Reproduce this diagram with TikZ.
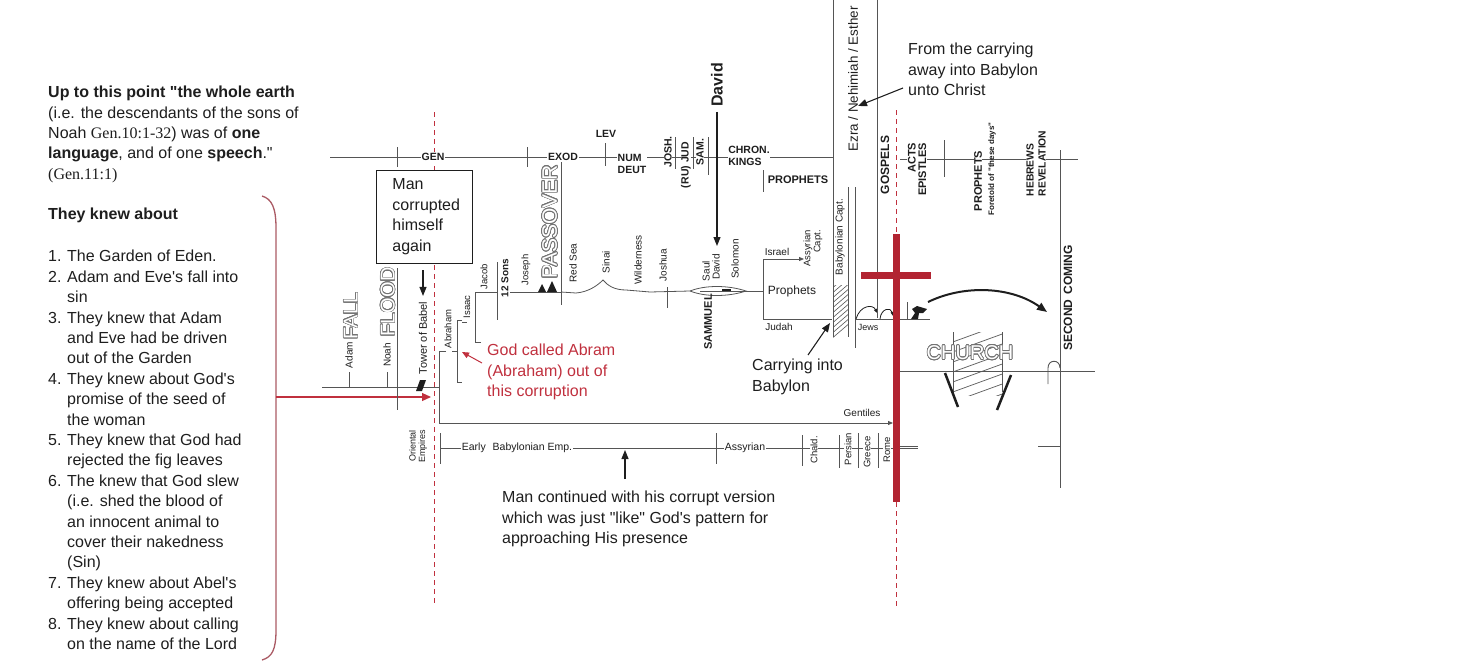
\documentclass[tikz,border=0pt]{standalone}
\usepackage{fontspec}
\setmainfont{Liberation Sans}[Ligatures=TeXOff]
\newfontfamily\serifgen{Liberation Serif}[Ligatures=TeXOff]
\usepackage[copies]{contour}
\usetikzlibrary{arrows.meta}
\definecolor{ink}{RGB}{30,30,30}
\definecolor{lc}{RGB}{85,85,85}
\definecolor{cred}{RGB}{192,48,62}
\definecolor{crossred}{RGB}{178,36,50}
\definecolor{brk}{RGB}{170,90,100}
\contourlength{0.7pt}
\contournumber{20}
\newcommand\itm[1]{\makebox[19pt][l]{#1}}
\newcommand\hind{\hspace*{19pt}}
\newcommand\outl[1]{\contour{black!55}{\textcolor{white}{#1}}}
\tikzset{
  ann/.style={font=\fontsize{16}{20.4}\selectfont, text=ink, inner sep=0pt, align=left},
  tl/.style={draw=lc, line width=0.9pt},
  sm/.style={font=\fontsize{10}{11}\selectfont, text=ink, inner sep=0.5pt},
  smr/.style={sm, rotate=90},
  bl/.style={font=\bfseries\fontsize{10.5}{12}\selectfont, text=ink, inner sep=1pt, fill=white},
  blr/.style={bl, rotate=90},
  bigout/.style={font=\fontsize{20}{20}\selectfont, inner sep=0pt, rotate=90},
  arr/.style={draw=ink, line width=1.1pt, -{Triangle[length=9pt,width=7pt]}},
  sarr/.style={draw=lc, line width=0.8pt, -{Triangle[length=5pt,width=4pt]}},
  rarr/.style={draw=cred, line width=1.2pt, -{Triangle[length=9pt,width=8pt]}},
  dashred/.style={draw=cred, line width=1pt, dash pattern=on 5pt off 4pt},
}
\begin{document}
\begin{tikzpicture}[x=1pt,y=-1pt]
\useasboundingbox (0,0) rectangle (1473,672);

% ---------- left text ----------
\node[ann, anchor=north west] (intro) at (48,86) {\textbf{Up to this point "the whole earth}\\(i.e. the descendants of the sons of\\Noah {\serifgen Gen.10:1-32}) was of \textbf{one}\\\textbf{language}, and of one \textbf{speech}."\\{\serifgen (Gen.11:1)}};
\node[ann, anchor=north west, font=\bfseries\fontsize{16}{20.4}\selectfont] (knew) at (48,208) {They knew about};
\node[ann, anchor=north west] (list) at (48,250) {\itm{1.}The Garden of Eden.\\
\itm{2.}Adam and Eve's fall into\\ \hind sin\\
\itm{3.}They knew that Adam\\ \hind and Eve had be driven\\ \hind out of the Garden\\
\itm{4.}They knew about God's\\ \hind promise of the seed of\\ \hind the woman\\
\itm{5.}They knew that God had\\ \hind rejected the fig leaves\\
\itm{6.}The knew that God slew\\ \hind (i.e. shed the blood of\\ \hind an innocent animal to\\ \hind cover their nakedness\\ \hind (Sin)\\
\itm{7.}They knew about Abel's\\ \hind offering being accepted\\
\itm{8.}They knew about calling\\ \hind on the name of the Lord};

% red bracket
\draw[draw=brk, line width=1.3pt] (262,196) .. controls (272,199) and (276,208) .. (276,228) -- (276,630) .. controls (276,650) and (272,657) .. (262,660);
\coordinate (brkmid) at (276,397);
\coordinate (dashpt) at (431,397);
\draw[rarr] (brkmid) -- (dashpt);

% ---------- dashed red lines and cross ----------
\draw[dashred] (434,112) -- (434,606);
\draw[dashred] (896,110) -- (896,234);
\draw[dashred] (896,502) -- (896,606);

% ---------- top timeline ----------
\draw[tl] (330,157) -- (833,157);
\draw[tl] (397,147) -- (397,167);
\draw[tl] (527,147) -- (527,167);
\draw[tl] (605,143) -- (605,166);
\node[bl] (gen) at (433,157) {GEN};
\node[bl] (exod) at (563,157) {EXOD};
\node[bl, fill=none] (lev) at (606,134) {LEV};
\node[bl, align=left, inner sep=0.5pt] (num) at (632,164) {NUM\\DEUT};
\node[blr, inner sep=0pt] (josh) at (668,152) {JOSH.};
\node[blr, inner sep=0pt] (jud) at (686,165) {(RU) JUD};
\node[blr, inner sep=0pt] (sam) at (700,152) {SAM.};
\draw[tl, line width=0.7pt] (675,137) -- (675,169);
\draw[tl, line width=0.7pt] (693,137) -- (693,169);
\draw[tl, line width=0.7pt] (708,137) -- (708,175);
\node[bl, align=left, inner sep=0.5pt] (chron) at (749,156) {CHRON.\\KINGS};
\node[bl, fill=none, font=\bfseries\fontsize{11}{12}\selectfont] (proph1) at (798,180) {PROPHETS};
\draw[tl] (763,170) -- (763,192);

% David
\node[blr, fill=none, font=\bfseries\fontsize{16}{18}\selectfont] (david) at (717,85) {David};
\coordinate (davidpt) at (717,246);
\draw[arr] (david.west) ++(0,4) -- (davidpt);

% right vertical lines
\draw[tl] (833,0) -- (833,337);
\draw[tl] (877,0) -- (877,318);
\draw[tl] (848,187) -- (848,337);
\draw[tl] (855,187) -- (855,348);
\node[font=\fontsize{13.4}{14}\selectfont, text=ink, rotate=90, inner sep=0pt] (ezra) at (853,79) {Ezra / Nehimiah / Esther};
\node[ann, anchor=north west] (fromtxt) at (908,43) {From the carrying\\away into Babylon\\unto Christ};
\coordinate (ezrapt) at (858,106);
\draw[arr] (903,88) -- (ezrapt);

% right part of top line
\draw[tl] (900,159) -- (1078,159);
\node[blr, fill=none, font=\bfseries\fontsize{12}{13}\selectfont] (gospels) at (885,165) {GOSPELS};
\node[blr, align=right, anchor=east, inner sep=0.5pt, font=\bfseries\fontsize{11}{10.5}\selectfont] (acts) at (917,142) {ACTS\\EPISTLES};
\draw[tl] (944,140) -- (944,177);
\node[blr, inner sep=0.5pt, font=\bfseries\fontsize{11}{12}\selectfont] (proph2) at (978,181) {PROPHETS};
\node[rotate=90, inner sep=0pt, text=ink, font=\bfseries\fontsize{8}{9}\selectfont] (foretold) at (992,169) {Foretold of "these days"};
\node[blr, align=left, anchor=west, inner sep=0.5pt, font=\bfseries\fontsize{10.3}{12}\selectfont] (hebrews) at (1036,197) {HEBREWS\\REVELATION};
\draw[tl] (1060,150) -- (1060,488);
\node[blr, fill=none, font=\bfseries\fontsize{12}{13}\selectfont] (second) at (1068,298) {SECOND\hspace{5pt}COMING};

% ---------- left lower region ----------
\draw[tl] (322,387) -- (439,387);
\draw[tl] (397,268) -- (397,410);
\node[smr, font=\fontsize{10}{11}\selectfont] (adam) at (349,355) {Adam};
\draw[tl, line width=0.7pt] (349,372) -- (349,387);
\node[bigout] (fall) at (351,316) {\outl{FALL}};
\node[smr] (noah) at (387,355) {Noah};
\draw[tl, line width=0.7pt] (387,372) -- (387,387);
\node[bigout] (flood) at (388,302) {\outl{FLOOD}};
\node[smr, font=\fontsize{11}{12}\selectfont] (babel) at (423,338) {Tower of Babel};
\fill[ink] (416,391) -- (420,380) -- (426,380) -- (422,391) -- cycle;

\node[ann, draw=ink, fill=white, line width=0.9pt, anchor=north west, text width=64pt, inner xsep=16pt, inner ysep=8.5pt] (corrupt) at (376,170) {Man\\corrupted\\himself\\again};
\draw[arr, shorten <=7pt, shorten >=5pt] (corrupt.south -| babel.east) -- (babel.east);

% patriarchs
\node[smr, font=\fontsize{9.5}{10}\selectfont] (abraham) at (448,329) {Abraham};
\draw[tl] (446,351) -- (439,351) -- (439,423);
\draw[tl, line width=0.7pt] (452,351) -- (457,351);
\draw[tl] (462,320) -- (457,320) -- (457,382) -- (462,382);
\node[smr, font=\fontsize{9.5}{10}\selectfont] (isaac) at (467,307) {Isaac};
\draw[tl, line width=0.7pt] (462,322) -- (467,322);
\draw[tl] (481,342) -- (475,342) -- (475,292) -- (497,292);
\node[smr, font=\fontsize{9.5}{10}\selectfont] (jacob) at (484,277) {Jacob};
\draw[tl] (497,262) -- (497,320);
\node[smr, font=\bfseries\fontsize{10}{11}\selectfont] (sons) at (505,278) {12 Sons};
\draw[tl] (510,292) -- (561,292);
\node[smr, font=\fontsize{9.5}{10}\selectfont] (joseph) at (526,270) {Joseph};
\fill[ink] (538,292) -- (542,284) -- (546,292) -- cycle;
\fill[ink] (547,292) -- (552,281) -- (557,292) -- cycle;
\node[bigout, font=\fontsize{21}{21}\selectfont] (passover) at (550,222) {\outl{PASSOVER}};
\draw[tl] (561,162) -- (561,305);
\node[smr] (redsea) at (573,263) {Red Sea};

% journey
\draw[tl, line width=0.8pt] (561,292) -- (576,293) .. controls (588,292) and (597,286) .. (603,280) .. controls (608,286) and (615,290) .. (626,290) -- (650,292) -- (690,291);
\draw[tl, line width=0.8pt] (690,291) .. controls (705,285) and (728,285) .. (746,291) .. controls (728,297) and (705,297) .. (690,291);
\draw[tl, line width=0.8pt] (700,291) -- (763,291);
\draw[ink, line width=2pt] (722,290) -- (731,290);
\node[smr] (sinai) at (606,262) {Sinai};
\node[smr] (wild) at (638,260) {Wilderness};
\node[smr] (joshua) at (663,265) {Joshua};
\draw[tl, line width=0.7pt] (667,287) -- (667,308);
\node[smr] (saul) at (706,271) {Saul};
\node[smr] (davidl) at (716,267) {David};
\node[smr] (solomon) at (735,259) {Solomon};
\node[smr, font=\bfseries\fontsize{11}{12}\selectfont] (sammuel) at (708,322) {SAMMUEL};

% prophets box
\node[sm] (israel) at (777,252) {Israel};
\coordinate (assypt) at (804,259);
\draw[sarr] (763,259) -- (assypt);
\node[smr, align=right, anchor=east, inner sep=0pt, font=\fontsize{9.5}{10}\selectfont] (assyr) at (813,230) {Assyrian\\Capt.};
\draw[tl] (763,259) -- (763,319);
\node[sm, font=\fontsize{12}{13}\selectfont] (prophets3) at (792,291) {Prophets};
\node[sm] (judah) at (779,327) {Judah};
\draw[tl] (763,319) -- (832,319);
\node[smr] (babcapt) at (840,237) {Babylonian Capt.};
\begin{scope}
\clip (833,285) rectangle (848,337);
\foreach \k in {0,...,12} { \draw[lc, line width=0.6pt] (830,280+5*\k) -- (851,262+5*\k); }
\end{scope}
\draw[tl] (855,319) -- (930,319);
\draw[ink, line width=0.8pt, -{Triangle[length=4pt,width=3pt]}] (856,319) .. controls (860,305) and (873,304) .. (877,313);
\draw[ink, line width=0.8pt, -{Triangle[length=4pt,width=3pt]}] (880,319) .. controls (881,308) and (891,307) .. (893,316);
\node[sm, font=\fontsize{9}{10}\selectfont] (jews) at (868,327) {Jews};

% cross
\draw[crossred, line width=7pt] (896,234) -- (896,502);
\draw[crossred, line width=7pt] (861,275) -- (931,275);

% figure and arc
\draw[tl] (907,302) -- (907,319);
\fill[ink] (911,319) -- (915,313) -- (912,309) -- (917,306) -- (927,309) -- (923,313) -- (919,313) -- (918,319) -- cycle;
\coordinate (arcstart) at (928,302);
\coordinate (arcend) at (1047,312);
\draw[ink, line width=2pt, -{Triangle[length=10pt,width=8pt]}] (arcstart) .. controls (965,284) and (1012,287) .. (arcend);

% church
\draw[tl] (900,371) -- (1095,371);
\draw[tl] (1048,384) -- (1048,368) .. controls (1048,359) and (1060,359) .. (1060,368);
\begin{scope}
\clip (953,332) rectangle (1002,395);
\foreach \k in {0,...,7} { \draw[lc, line width=0.7pt] (950,343+10*\k) -- (1005,323+10*\k); }
\end{scope}
\draw[tl] (953,332) -- (953,395);
\draw[tl] (1002,332) -- (1002,392);
\node[font=\fontsize{20}{20}\selectfont, inner sep=0pt] (church) at (970,353) {\outl{CHURCH}};
\draw[ink, line width=2.5pt] (945,373) -- (958,407);
\draw[ink, line width=2.5pt] (1011,375) -- (997,410);
\draw[tl] (900,446) -- (918,446);
\draw[tl] (1038,446) -- (1060,446);

% annotations
\node[ann, anchor=north west, text=cred] (abram) at (487,344) {God called Abram\\(Abraham) out of\\this corruption};
\coordinate (abrampt) at (462,352);
\draw[rarr, line width=1pt, -{Triangle[length=7pt,width=6pt]}] (482,363) -- (abrampt);
\node[ann, anchor=north west] (carry) at (752,359) {Carrying into\\Babylon};
\coordinate (carrypt) at (830,323);
\draw[arr] (808,355) -- (carrypt);

% gentiles
\coordinate (gentpt) at (893,423);
\draw[sarr] (439,423) -- (gentpt);
\node[sm] (gentiles) at (862,413) {Gentiles};

% empires line
\draw[tl] (440,448) -- (893,448);
\draw[tl] (900,448) -- (918,448);
\foreach \xx/\ya/\yb in {440/433/464, 716/433/464, 802/435/466, 839/435/468, 858/433/468, 878/433/468}
  { \draw[tl] (\xx,\ya) -- (\xx,\yb); }
\node[smr, align=center, inner sep=0pt, font=\fontsize{9}{9.5}\selectfont] (oriental) at (418,446) {Oriental\\Empires};
\node[sm, fill=white, font=\fontsize{10.5}{11}\selectfont] (early) at (517,448) {Early\hspace{4pt} Babylonian Emp.};
\node[sm, fill=white, font=\fontsize{10.5}{11}\selectfont] (assyrian) at (745,448) {Assyrian};
\node[smr, fill=white, font=\fontsize{9.5}{10}\selectfont] (chald) at (814,450) {Chald.};
\node[smr, fill=white, font=\fontsize{9.5}{10}\selectfont] (persian) at (848,449) {Persian};
\node[smr, fill=white, font=\fontsize{9.5}{10}\selectfont] (greece) at (867,452) {Greece};
\node[smr, fill=white, font=\fontsize{9.5}{10}\selectfont] (rome) at (887,450) {Rome};
\node[ann, anchor=north west] (contin) at (502,491) {Man continued with his corrupt version\\which was just "like" God's pattern for\\approaching His presence};
\coordinate (contpt) at (625,450);
\draw[arr] (625,479) -- (contpt);
\end{tikzpicture}
\end{document}
